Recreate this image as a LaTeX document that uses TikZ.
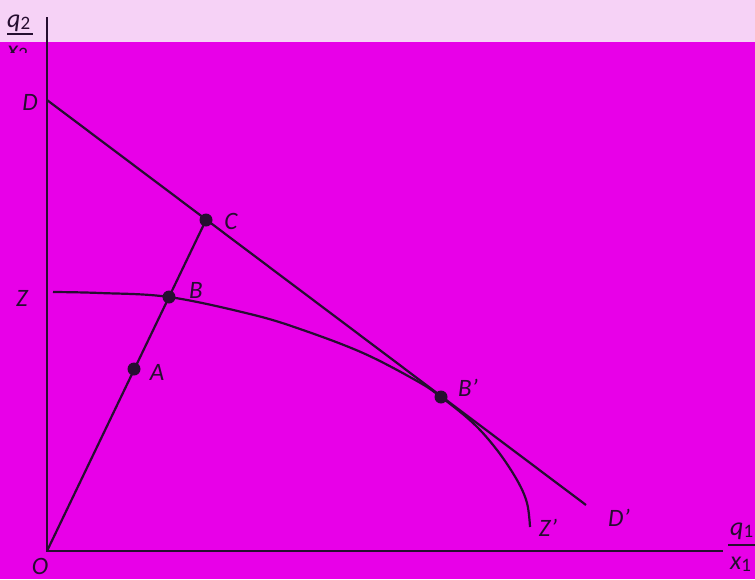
\documentclass[tikz,border=0pt]{standalone}
\usepackage{fontspec}
\setmainfont{Carlito}
\usetikzlibrary{calc,positioning}
\definecolor{bgpink}{RGB}{232,0,232}
\definecolor{bandpink}{RGB}{246,210,246}
\definecolor{inkdark}{RGB}{38,14,48}
\tikzset{
  ax/.style={draw=inkdark, line width=2.3pt},
  ln/.style={draw=inkdark, line width=2.2pt},
  dot/.style={circle, fill=inkdark, minimum size=13pt, inner sep=0pt},
  lbl/.style={font=\fontsize{25}{28}\selectfont\itshape, text=inkdark, inner sep=0pt},
  frc/.style={font=\fontsize{26}{30}\selectfont, text=inkdark, inner sep=0pt, anchor=base west},
}
\newcommand{\qsub}[2]{{\itshape #1}\raisebox{-0.2ex}{\fontsize{19}{22}\selectfont #2}}

\begin{document}
\begin{tikzpicture}[x=1pt, y=-1pt]
  % page and the paler band at the top
  \fill[bgpink] (0,0) rectangle (755,579);
  \fill[bandpink] (0,0) rectangle (755,42);
  \useasboundingbox (0,0) rectangle (755,579);

  % axes
  \coordinate (O) at (47,551);
  \coordinate (Ytop) at (47,17);
  \coordinate (Xend) at (723,551);
  \draw[ax] (Ytop) -- (O) -- (Xend);

  % points
  \coordinate (D) at (47,100);
  \coordinate (Dp) at (586,505);
  \node[dot] (C) at (206,220) {};
  \node[dot] (B) at (169,297) {};
  \node[dot] (A) at (134,369) {};
  \node[dot] (Bp) at (441,397) {};

  % budget line and ray from the origin
  \draw[ln] (D) -- (Dp);
  \draw[ln] (O) -- (C.center);

  % frontier Z--Z'
  \draw[ln] plot[smooth, tension=0.6] coordinates {
    (53,292) (100,293) (B.center) (250,314) (300,329) (363,353) (417,381)
    (Bp.center) (473,423) (497,450) (517,480) (527,503) (530,527)};

  % labels
  \node[lbl] (Dlbl) at (30,102) {D};
  \node[lbl] (Clbl) at (231,221) {C};
  \node[lbl] (Blbl) at (196,290) {B};
  \node[lbl] (Albl) at (157,372) {A};
  \node[lbl] (Bplbl) at (468,388) {B’};
  \node[lbl] (Zlbl) at (22,298) {Z};
  \node[lbl] (Zplbl) at (548,528) {Z’};
  \node[lbl] (Dplbl) at (619,518) {D’};
  \node[lbl] (Olbl) at (40,566) {O};

  % axis titles
  \node[frc] (q1) at (730,535) {\qsub{q}{1}};
  \node[frc] (x1) at (730,569) {\qsub{x}{1}};
  \draw[ax] (728,545) -- (755,545);
  \begin{scope}
    \clip (0,0) rectangle (60,52);
    \node[frc] (q2) at (7,27) {\qsub{q}{2}};
    \node[frc] (x2) at (7,58) {\qsub{x}{2}};
    \draw[ax] (7,34) -- (33,34);
  \end{scope}
\end{tikzpicture}
\end{document}
